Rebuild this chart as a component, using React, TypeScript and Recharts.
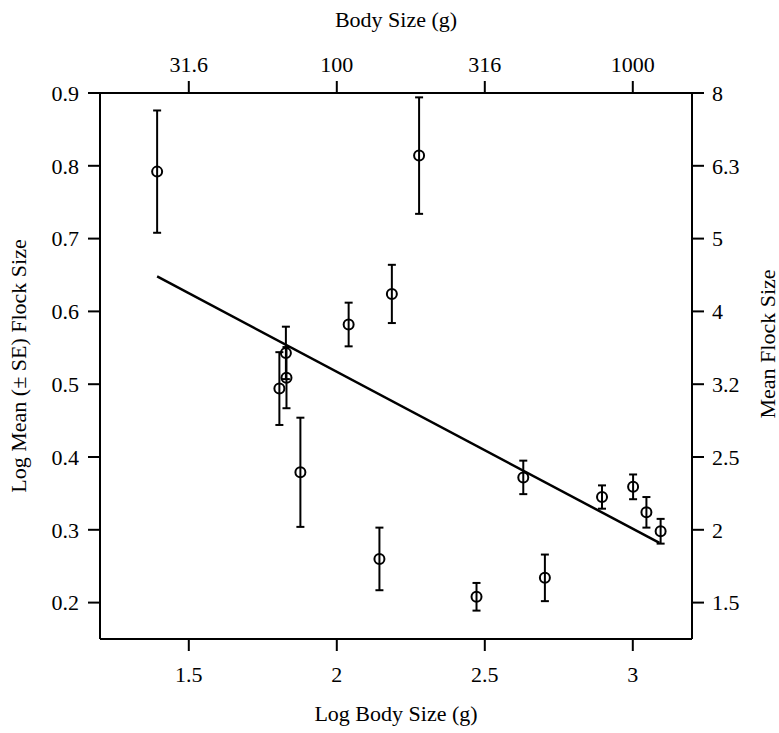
import React from "react";
import { ScatterChart, Scatter, XAxis, YAxis, ErrorBar } from "recharts";

// log10 body size (g) per species
const logBodySize = [1.393, 1.806, 1.828, 1.83, 1.877, 2.04, 2.144, 2.186, 2.278, 2.472, 2.63, 2.703, 2.896, 3.001, 3.046, 3.094];
// log10 mean flock size
const logFlockSize = [0.792, 0.494, 0.543, 0.509, 0.379, 0.582, 0.26, 0.624, 0.814, 0.208, 0.372, 0.234, 0.345, 0.359, 0.324, 0.298];
// standard errors
const flockSE = [0.084, 0.05, 0.036, 0.042, 0.075, 0.03, 0.043, 0.04, 0.08, 0.019, 0.023, 0.032, 0.016, 0.017, 0.021, 0.017];

// regression line end points
const fitX = [1.393, 3.09];
const fitY = [0.648, 0.282];

const bottomTicks = [1.5, 2, 2.5, 3];
const topTickLabels = ["31.6", "100", "316", "1000"];
const leftTicks = [0.2, 0.3, 0.4, 0.5, 0.6, 0.7, 0.8, 0.9];
const rightTickLabels = ["1.5", "2", "2.5", "3.2", "4", "5", "6.3", "8"];

const points = logBodySize.map((x, i) => ({ x, y: logFlockSize[i], err: flockSE[i] }));
const fitLine = fitX.map((x, i) => ({ x, y: fitY[i] }));

const FONT = "'Liberation Serif', 'DejaVu Serif', serif";
const FS = 22;
const tickStyle = { fill: "#000", fontSize: FS, fontFamily: FONT };
const axisStroke = { stroke: "#000", strokeWidth: 2 };

const OpenCircle = (props: any) => (
  <circle cx={props.cx} cy={props.cy} r={5} fill="none" stroke="#000" strokeWidth={2} />
);

// rotated title for the right axis, sitting a little above the middle
const RightTitle = (props: any) => {
  const { viewBox } = props;
  const x = viewBox.x + viewBox.width - 12;
  const y = viewBox.y + viewBox.height / 2 - 22;
  return (
    <text
      x={x}
      y={y}
      transform={`rotate(-90 ${x} ${y})`}
      textAnchor="middle"
      dominantBaseline="central"
      fill="#000"
      fontSize={FS}
      fontFamily={FONT}
    >
      Mean Flock Size
    </text>
  );
};

const App = () => {
  return (
    <div style={{ position: "absolute", left: 0, top: 0, background: "#fff" }}>
      <ScatterChart width={779} height={733} margin={{ top: 0, right: 0, bottom: 0, left: 0 }}>
        <XAxis
          xAxisId="bottom"
          dataKey="x"
          type="number"
          domain={[1.2, 3.2]}
          ticks={bottomTicks}
          tickFormatter={(v) => String(v)}
          height={94}
          axisLine={axisStroke}
          tickLine={axisStroke}
          tickSize={12}
          tickMargin={15}
          tick={tickStyle}
          label={{ value: "Log Body Size (g)", position: "insideBottom", offset: 12, fill: "#000", fontSize: FS, fontFamily: FONT }}
        />
        <XAxis
          xAxisId="top"
          orientation="top"
          dataKey="x"
          type="number"
          domain={[1.2, 3.2]}
          ticks={bottomTicks}
          tickFormatter={(v) => topTickLabels[bottomTicks.indexOf(v)]}
          height={93}
          axisLine={axisStroke}
          tickLine={axisStroke}
          tickSize={12}
          tickMargin={9}
          tick={tickStyle}
          label={{ value: "Body Size (g)", position: "insideTop", offset: 11, fill: "#000", fontSize: FS, fontFamily: FONT }}
        />
        <YAxis
          yAxisId="left"
          dataKey="y"
          type="number"
          domain={[0.15, 0.9]}
          ticks={leftTicks}
          tickFormatter={(v) => v.toFixed(1)}
          width={100}
          axisLine={axisStroke}
          tickLine={axisStroke}
          tickSize={12}
          tickMargin={9}
          tick={tickStyle}
          label={{
            value: "Log Mean (\u00B1 SE) Flock Size",
            angle: -90,
            position: "insideLeft",
            offset: 18,
            fill: "#000",
            fontSize: FS,
            fontFamily: FONT,
            style: { textAnchor: "middle" },
          }}
        />
        <YAxis
          yAxisId="right"
          orientation="right"
          dataKey="y"
          type="number"
          domain={[0.15, 0.9]}
          ticks={leftTicks}
          tickFormatter={(v) => rightTickLabels[leftTicks.indexOf(v)]}
          width={87}
          axisLine={axisStroke}
          tickLine={axisStroke}
          tickSize={12}
          tickMargin={8}
          tick={tickStyle}
          label={{ content: RightTitle }}
        />
        <Scatter
          xAxisId="top"
          yAxisId="right"
          data={fitLine}
          line={{ stroke: "#000", strokeWidth: 2.5 }}
          shape={() => <g />}
          isAnimationActive={false}
        />
        <Scatter
          xAxisId="bottom"
          yAxisId="left"
          data={points}
          shape={OpenCircle}
          isAnimationActive={false}
        >
          <ErrorBar dataKey="err" direction="y" width={4} stroke="#000" strokeWidth={2} />
        </Scatter>
      </ScatterChart>
    </div>
  );
};

export default App;
